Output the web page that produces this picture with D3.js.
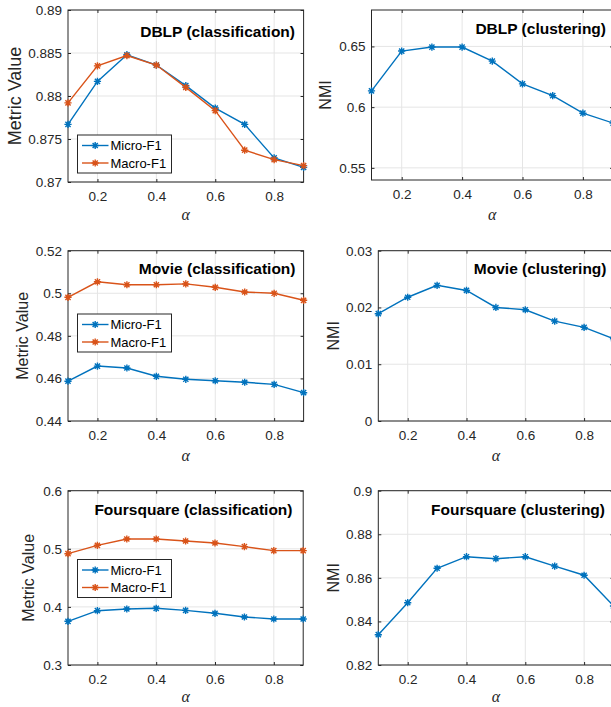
<!DOCTYPE html>
<html>
<head>
<meta charset="utf-8">
<script src="https://cdn.jsdelivr.net/npm/d3@7"></script>
<style>
  body { margin: 0; background: #fff; overflow: hidden; }
  text { font-family: "Liberation Sans", Arial, Helvetica, sans-serif; }
</style>
</head>
<body>
<div class="container"></div>
<script>
const width = 611;
const height = 707;

// alpha values on the x axis
const alpha = [0.1, 0.2, 0.3, 0.4, 0.5, 0.6, 0.7, 0.8, 0.9];
const xTicks = [0.2, 0.4, 0.6, 0.8];

// DBLP
const dblpMicro = [0.8767, 0.8817, 0.8848, 0.8836, 0.8812, 0.8786, 0.8767, 0.8728, 0.8717];
const dblpMacro = [0.8792, 0.8835, 0.8847, 0.8836, 0.8810, 0.8783, 0.8737, 0.8726, 0.8719];
const dblpNMI = [0.6134, 0.6462, 0.6495, 0.6495, 0.6379, 0.6192, 0.6095, 0.5950, 0.5869];

// Movie
const movieMicro = [0.4587, 0.4658, 0.4649, 0.4610, 0.4596, 0.4589, 0.4582, 0.4572, 0.4533];
const movieMacro = [0.4981, 0.5054, 0.5040, 0.5040, 0.5044, 0.5028, 0.5006, 0.5000, 0.4967];
const movieNMI = [0.0189, 0.0218, 0.0239, 0.0230, 0.0200, 0.0196, 0.0176, 0.0165, 0.0145];

// Foursquare
const fsqMicro = [0.3752, 0.3935, 0.3964, 0.3976, 0.3941, 0.3890, 0.3826, 0.3792, 0.3792];
const fsqMacro = [0.4916, 0.5060, 0.5169, 0.5169, 0.5134, 0.5100, 0.5037, 0.4968, 0.4968];
const fsqNMI = [0.8339, 0.8486, 0.8644, 0.8697, 0.8688, 0.8697, 0.8654, 0.8612, 0.8471];

// y tick labels
const dblpClsTicks = [0.87, 0.875, 0.88, 0.885, 0.89];
const dblpCluTicks = [0.55, 0.6, 0.65];
const movieClsTicks = [0.44, 0.46, 0.48, 0.5, 0.52];
const movieCluTicks = [0, 0.01, 0.02, 0.03];
const fsqClsTicks = [0.3, 0.4, 0.5, 0.6];
const fsqCluTicks = [0.82, 0.84, 0.86, 0.88, 0.9];

const blue = '#0072bd';
const orange = '#d95319';
const ink = '#262626';

const panels = [
  { title: 'DBLP (classification)', ylabel: 'Metric Value', yDomain: [0.87, 0.89], yTicks: dblpClsTicks,
    series: [{ name: 'Micro-F1', values: dblpMicro, color: blue }, { name: 'Macro-F1', values: dblpMacro, color: orange }],
    left: 68, top: 10, bottom: 182, step: 29.45, titleX: 295, titleY: 32, ylabelX: 15, ylabelSize: 18, alphaY: 215, legend: [77.5, 135] },
  { title: 'DBLP (clustering)', ylabel: 'NMI', yDomain: [0.54, 0.68], yTicks: dblpCluTicks,
    series: [{ name: 'NMI', values: dblpNMI, color: blue }],
    left: 371.5, top: 10, bottom: 180, step: 30.2, titleX: 606, titleY: 29, ylabelX: 325, ylabelSize: 16, alphaY: 215 },
  { title: 'Movie (classification)', ylabel: 'Metric Value', yDomain: [0.44, 0.52], yTicks: movieClsTicks,
    series: [{ name: 'Micro-F1', values: movieMicro, color: blue }, { name: 'Macro-F1', values: movieMacro, color: orange }],
    left: 68, top: 250.7, bottom: 421, step: 29.45, titleX: 295.5, titleY: 268.3, ylabelX: 22, ylabelSize: 16, alphaY: 456, legend: [77.5, 314] },
  { title: 'Movie (clustering)', ylabel: 'NMI', yDomain: [0, 0.03], yTicks: movieCluTicks,
    series: [{ name: 'NMI', values: movieNMI, color: blue }],
    left: 378.3, top: 250.7, bottom: 421, step: 29.4, titleX: 606.5, titleY: 268.3, ylabelX: 333, ylabelSize: 16, alphaY: 456 },
  { title: 'Foursquare (classification)', ylabel: 'Metric Value', yDomain: [0.3, 0.6], yTicks: fsqClsTicks,
    series: [{ name: 'Micro-F1', values: fsqMicro, color: blue }, { name: 'Macro-F1', values: fsqMacro, color: orange }],
    left: 68, top: 490.7, bottom: 665, step: 29.4, titleX: 292.5, titleY: 510, ylabelX: 28, ylabelSize: 16, alphaY: 697.5, legend: [77.5, 559.5] },
  { title: 'Foursquare (clustering)', ylabel: 'NMI', yDomain: [0.82, 0.9], yTicks: fsqCluTicks,
    series: [{ name: 'NMI', values: fsqNMI, color: blue }],
    left: 378.3, top: 490.7, bottom: 665, step: 29.4, titleX: 605, titleY: 510, ylabelX: 333, ylabelSize: 16, alphaY: 697.5 }
];

// matlab style '*' marker: plus + cross
const star = {
  draw(context, size) {
    const r = Math.sqrt(size) / 2;
    const d = r * 0.72;
    context.moveTo(-r, 0); context.lineTo(r, 0);
    context.moveTo(0, -r); context.lineTo(0, r);
    context.moveTo(-d, -d); context.lineTo(d, d);
    context.moveTo(-d, d); context.lineTo(d, -d);
  }
};
const marker = d3.symbol().type(star).size(52);

const fmt = (d) => String(+d.toFixed(4));

const svg = d3.select('.container')
  .append('svg')
  .attr('width', width)
  .attr('height', height);

panels.forEach((p) => {
  const right = p.left + p.step * 8;

  const x = d3.scaleLinear()
    .domain([0.1, 0.9])
    .range([p.left, right]);

  const y = d3.scaleLinear()
    .domain(p.yDomain)
    .range([p.bottom, p.top]);

  const g = svg.append('g');

  // grid
  g.selectAll('.gx')
    .data(xTicks)
    .enter()
    .append('line')
    .attr('x1', d => x(d)).attr('x2', d => x(d))
    .attr('y1', p.top).attr('y2', p.bottom)
    .attr('stroke', '#e5e5e5').attr('stroke-width', 1);

  g.selectAll('.gy')
    .data(p.yTicks)
    .enter()
    .append('line')
    .attr('x1', p.left).attr('x2', right)
    .attr('y1', d => y(d)).attr('y2', d => y(d))
    .attr('stroke', '#e5e5e5').attr('stroke-width', 1);

  // box
  g.append('rect')
    .attr('x', p.left).attr('y', p.top)
    .attr('width', right - p.left).attr('height', p.bottom - p.top)
    .attr('fill', 'none').attr('stroke', ink).attr('stroke-width', 1);

  // axes
  const xAxis = d3.axisBottom(x).tickValues(xTicks).tickFormat(fmt)
    .tickSizeInner(-3).tickSizeOuter(0).tickPadding(9);
  const yAxis = d3.axisLeft(y).tickValues(p.yTicks).tickFormat(fmt)
    .tickSizeInner(-3).tickSizeOuter(0).tickPadding(6);

  g.append('g')
    .attr('transform', `translate(0, ${p.bottom})`)
    .call(xAxis);
  g.append('g')
    .attr('transform', `translate(${p.left}, 0)`)
    .call(yAxis);
  g.append('g')
    .attr('transform', `translate(0, ${p.top})`)
    .call(d3.axisTop(x).tickValues(xTicks).tickFormat('').tickSizeInner(-3).tickSizeOuter(0));
  g.append('g')
    .attr('transform', `translate(${right}, 0)`)
    .call(d3.axisRight(y).tickValues(p.yTicks).tickFormat('').tickSizeInner(-3).tickSizeOuter(0));

  g.selectAll('.domain').remove();
  g.selectAll('.tick line').attr('stroke', ink);
  g.selectAll('.tick text')
    .attr('fill', ink)
    .style('font-size', '13.5px')
    .style('font-family', '"Liberation Sans", Arial, sans-serif');

  // lines and markers
  const line = d3.line()
    .x((d, i) => x(alpha[i]))
    .y(d => y(d));

  p.series.forEach((s) => {
    g.append('path')
      .datum(s.values)
      .attr('d', line)
      .attr('fill', 'none')
      .attr('stroke', s.color)
      .attr('stroke-width', 1.4);

    g.selectAll(null)
      .data(s.values)
      .enter()
      .append('path')
      .attr('d', marker)
      .attr('transform', (d, i) => `translate(${x(alpha[i])}, ${y(d)})`)
      .attr('fill', 'none')
      .attr('stroke', s.color)
      .attr('stroke-width', 1.4);
  });

  // title
  g.append('text')
    .attr('x', p.titleX)
    .attr('y', p.titleY)
    .attr('dy', '0.35em')
    .attr('text-anchor', 'end')
    .style('font-size', '15.5px')
    .style('font-weight', 'bold')
    .attr('fill', '#000')
    .text(p.title);

  // y label
  g.append('text')
    .attr('transform', `translate(${p.ylabelX}, ${(p.top + p.bottom) / 2}) rotate(-90)`)
    .attr('dy', '0.35em')
    .attr('text-anchor', 'middle')
    .style('font-size', p.ylabelSize + 'px')
    .attr('fill', ink)
    .text(p.ylabel);

  // x label
  g.append('text')
    .attr('x', (p.left + right) / 2)
    .attr('y', p.alphaY)
    .attr('dy', '0.3em')
    .attr('text-anchor', 'middle')
    .style('font-size', '16px')
    .style('font-style', 'italic')
    .style('font-family', '"Liberation Serif", "DejaVu Serif", serif')
    .attr('fill', ink)
    .text('α');

  // legend
  if (p.legend) {
    const lx = p.legend[0];
    const ly = p.legend[1];
    const lg = g.append('g').attr('transform', `translate(${lx}, ${ly})`);

    lg.append('rect')
      .attr('width', 94).attr('height', 38)
      .attr('fill', '#fff')
      .attr('stroke', ink).attr('stroke-width', 1);

    p.series.forEach((s, i) => {
      const cy = 10.5 + i * 17.5;
      lg.append('line')
        .attr('x1', 4.5).attr('x2', 31)
        .attr('y1', cy).attr('y2', cy)
        .attr('stroke', s.color).attr('stroke-width', 1.4);
      lg.append('path')
        .attr('d', marker)
        .attr('transform', `translate(17.7, ${cy})`)
        .attr('fill', 'none')
        .attr('stroke', s.color)
        .attr('stroke-width', 1.4);
      lg.append('text')
        .attr('x', 33)
        .attr('y', cy)
        .attr('dy', '0.35em')
        .style('font-size', '13px')
        .attr('fill', '#000')
        .text(s.name);
    });
  }
});
</script>
</body>
</html>
